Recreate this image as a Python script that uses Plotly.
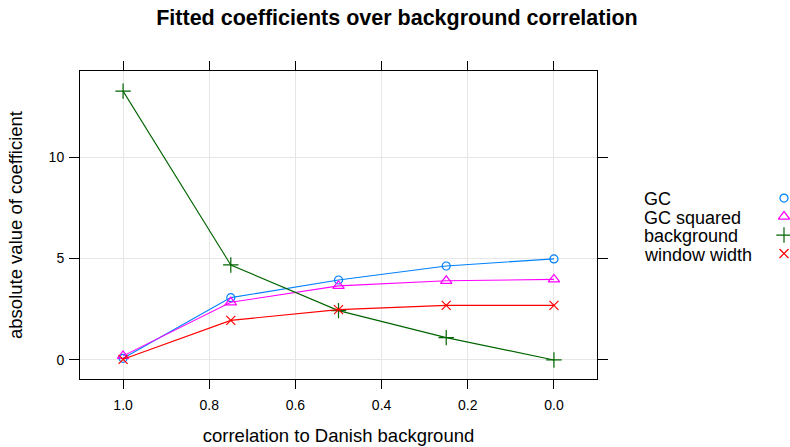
import plotly.graph_objects as go

correlation = [1.0, 0.75, 0.5, 0.25, 0.0]
gc = [0.08, 3.07, 3.94, 4.63, 4.98]
gc_squared = [0.2, 2.84, 3.65, 3.9, 3.97]
background = [13.25, 4.68, 2.43, 1.1, 0.0]
window_width = [0.03, 1.95, 2.48, 2.69, 2.69]

series_names = ["GC", "GC squared", "background", "window width"]
series_values = [gc, gc_squared, background, window_width]
colors = ["#0080ff", "#ff00ff", "#006400", "#ff0000"]
symbols = ["circle-open", "triangle-up-open", "cross-thin-open", "x-thin-open"]
sizes = [8, 10, 11, 9]

x_ticks = [1.0, 0.8, 0.6, 0.4, 0.2, 0.0]
y_ticks = [0, 5, 10]

fig = go.Figure()
for name, vals, c, s, sz in zip(series_names, series_values, colors, symbols, sizes):
    fig.add_trace(go.Scatter(
        x=correlation, y=vals, mode="lines+markers", name=name,
        line=dict(color=c, width=1.1),
        marker=dict(symbol=s, size=sz, color=c, line=dict(color=c, width=1.2)),
        showlegend=False,
    ))

# legend keys (text on left, symbol on right like lattice)
for name, c, s, sz in zip(series_names, colors, symbols, sizes):
    fig.add_trace(go.Scatter(
        x=[0], y=[name], mode="markers", xaxis="x2", yaxis="y2",
        marker=dict(symbol=s, size=sz, color=c, line=dict(color=c, width=1.2)),
        showlegend=False, hoverinfo="skip", cliponaxis=False,
    ))
    fig.add_annotation(
        x=0, y=name, xref="x2", yref="y2", text=name, showarrow=False,
        xanchor="left", xshift=-142, yshift=-1, font=dict(size=18, color="black"),
    )

font_family = "Liberation Sans, Arial, sans-serif"
fig.update_layout(
    width=790, height=447,
    margin=dict(l=80, r=0, t=71, b=68),
    paper_bgcolor="white", plot_bgcolor="white",
    font=dict(family=font_family, size=14, color="black"),
    title=dict(text="<b>Fitted coefficients over background correlation</b>",
               x=0.5025, xanchor="center", y=0.96, yanchor="middle",
               font=dict(size=21.5, color="black")),
    xaxis=dict(
        domain=[0, 0.7282],
        range=[1.1, -0.1], tickvals=x_ticks, ticktext=[f"{v:.1f}" for v in x_ticks],
        showline=True, linecolor="black", linewidth=1, mirror="ticks",
        ticks="outside", ticklen=9, tickcolor="black", ticklabelstandoff=4,
        showgrid=True, gridcolor="#e6e6e6", gridwidth=1, zeroline=False,
        title=dict(text="correlation to Danish background", font=dict(size=18.5), standoff=17),
        tickfont=dict(size=14),
    ),
    yaxis=dict(
        range=[-0.94, 14.24], tickvals=y_ticks,
        showline=True, linecolor="black", linewidth=1, mirror="ticks",
        ticks="outside", ticklen=10, tickcolor="black", ticklabelstandoff=2,
        showgrid=True, gridcolor="#e6e6e6", gridwidth=1, zeroline=False,
        title=dict(text="absolute value of coefficient", font=dict(size=18.5), standoff=21),
        tickfont=dict(size=14),
    ),
    xaxis2=dict(domain=[0.95, 1.0], anchor="y2", range=[-29.5, 6], visible=False),
    yaxis2=dict(domain=[0.0, 1.0], anchor="x2", visible=False,
                categoryorder="array", categoryarray=series_names[::-1],
                range=[-6.78, 9.865]),
)
fig.write_html(
    "out.html",
    config={"displayModeBar": False},
    post_script="document.body.style.margin='0';document.body.style.overflow='hidden';",
)
